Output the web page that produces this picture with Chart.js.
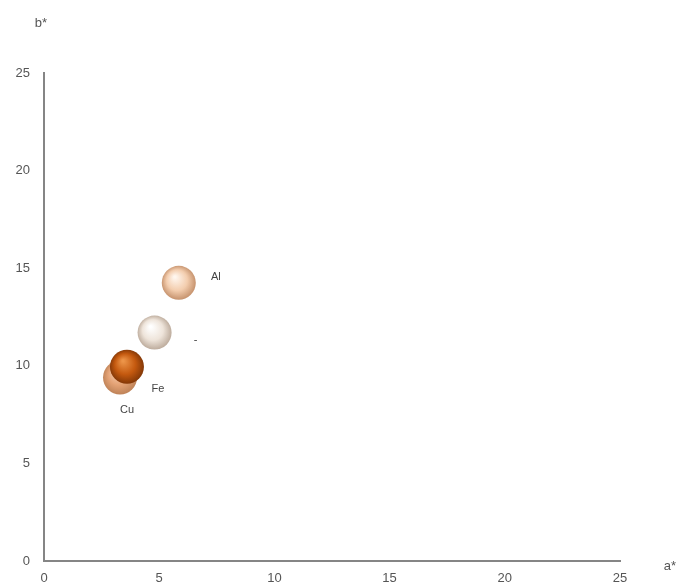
<!DOCTYPE html>
<html><head><meta charset="utf-8">
<script src="https://cdn.jsdelivr.net/npm/chart.js@4"></script>
<style>html,body{margin:0;padding:0;background:#fff}#wrap{width:679px;height:587px}</style>
</head><body><div id="wrap"><canvas id="c"></canvas></div>
<script>
const labels = ['Al', '-', 'Cu', 'Fe'];
const aStar = [5.85, 4.8, 3.3, 3.6];
const bStar = [14.25, 11.7, 9.4, 9.95];
const xTicks = [0, 5, 10, 15, 20, 25];
const yTicks = [0, 5, 10, 15, 20, 25];

const palette = [
  ['#fff6ee', '#f3cdae', '#c18c66'],
  ['#ffffff', '#eee4da', '#b8a696'],
  ['rgba(245,195,160,0.85)', 'rgba(222,145,92,0.85)', 'rgba(175,105,55,0.85)'],
  ['#ec9448', '#c4590f', '#7c3406']
];
const labelOffsets = [[37, -6], [41, 7], [7, 32], [31, 22]];

function ballFill(ctx) {
  const chart = ctx.chart;
  const i = ctx.dataIndex;
  if (i === undefined || !chart.scales.x || !chart.scales.y) return palette[0][1];
  const cx = chart.scales.x.getPixelForValue(aStar[i]);
  const cy = chart.scales.y.getPixelForValue(bStar[i]);
  if (!isFinite(cx) || !isFinite(cy)) return palette[i][1];
  const g = chart.ctx.createRadialGradient(cx - 4, cy - 6, 1, cx, cy, 18);
  const p = palette[i];
  g.addColorStop(0, p[0]);
  g.addColorStop(0.55, p[1]);
  g.addColorStop(1, p[2]);
  return g;
}

const textPlugin = {
  id: 'texts',
  afterDatasetsDraw(chart) {
    const c = chart.ctx;
    const meta = chart.getDatasetMeta(0);
    c.save();
    c.font = '11px "Liberation Sans", Arial, sans-serif';
    c.fillStyle = '#444';
    c.textAlign = 'center';
    c.textBaseline = 'middle';
    meta.data.forEach((el, i) => {
      c.fillText(labels[i], el.x + labelOffsets[i][0], el.y + labelOffsets[i][1]);
    });
    c.font = '13px "Liberation Sans", Arial, sans-serif';
    c.fillStyle = '#555';
    c.fillText('b*', 41, 23);
    c.fillText('a*', 670, 566);
    c.restore();
  }
};

const tickFont = {family: '"Liberation Sans", Arial, sans-serif', size: 13};

new Chart(document.getElementById('c'), {
  type: 'bubble',
  data: {
    datasets: [{
      data: aStar.map((a, i) => ({x: a, y: bStar[i]})),
      backgroundColor: ballFill,
      borderWidth: 0,
      radius: 17,
      hoverRadius: 17
    }]
  },
  options: {
    responsive: true,
    maintainAspectRatio: false,
    animation: false,
    events: [],
    layout: {padding: {top: 73, right: 59, bottom: 0, left: 0}},
    plugins: {legend: {display: false}, tooltip: {enabled: false}},
    scales: {
      x: {
        type: 'linear', min: 0, max: 25,
        afterBuildTicks: s => { s.ticks = xTicks.map(v => ({value: v})); },
        afterFit: s => { s.height = 26; },
        grid: {display: false, drawTicks: false},
        border: {display: true, color: '#858585', width: 2},
        ticks: {color: '#555', font: tickFont, padding: 10, maxRotation: 0}
      },
      y: {
        type: 'linear', min: 0, max: 25,
        afterBuildTicks: s => { s.ticks = yTicks.map(v => ({value: v})); },
        afterFit: s => { s.width = 44; },
        grid: {display: false, drawTicks: false},
        border: {display: true, color: '#858585', width: 2},
        ticks: {color: '#555', font: tickFont, padding: 14}
      }
    }
  },
  plugins: [textPlugin]
});
</script></body></html>
